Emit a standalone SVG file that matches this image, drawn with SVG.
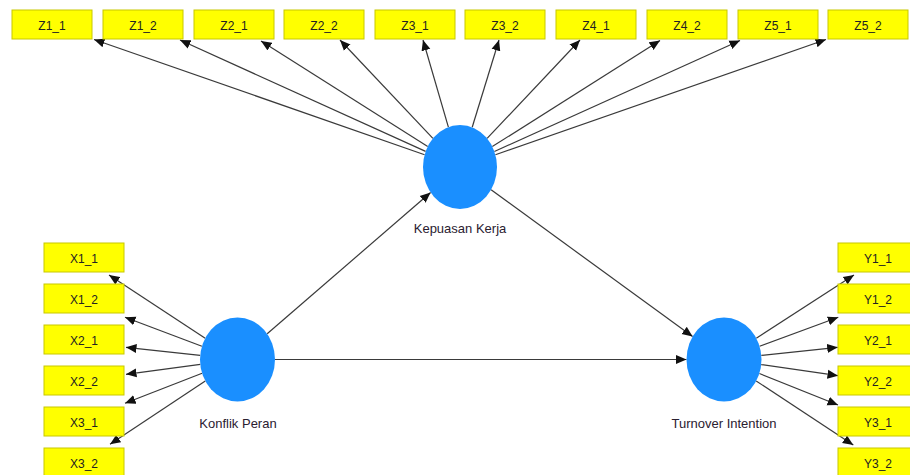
<svg xmlns="http://www.w3.org/2000/svg" width="910" height="475" viewBox="0 0 910 475">
<style>
.box{fill:#FFFF00;stroke:#C8C800;stroke-width:1}
.bt{font-family:"Liberation Sans",Arial,sans-serif;font-size:12px;fill:#222;text-anchor:middle}
.lv{fill:#1A8FFF}
.lt{font-family:"Liberation Sans",Arial,sans-serif;font-size:13px;fill:#2a2030;text-anchor:middle}
.c line{stroke:#3a3a3a;stroke-width:1.2;marker-end:url(#ah)}
</style>
<defs>
<marker id="ah" markerUnits="userSpaceOnUse" markerWidth="11" markerHeight="10" refX="10.5" refY="5" orient="auto">
<path d="M0,0.5 L10.5,5 L0,9.5 z" fill="#111"/>
</marker>
</defs>
<rect width="910" height="475" fill="#fff"/>
<g id="connectors" class="c">
<line x1="424.6" y1="154.7" x2="94" y2="39.5"/>
<line x1="425.6" y1="151.4" x2="180" y2="40"/>
<line x1="427.7" y1="146.5" x2="261" y2="41"/>
<line x1="432.9" y1="138.4" x2="340" y2="40"/>
<line x1="448.4" y1="127.1" x2="423" y2="40"/>
<line x1="472.2" y1="127.3" x2="499" y2="40"/>
<line x1="487.1" y1="138.4" x2="580" y2="40"/>
<line x1="492.3" y1="146.6" x2="660" y2="40.5"/>
<line x1="494.4" y1="151.5" x2="740" y2="40.5"/>
<line x1="495.4" y1="154.7" x2="826" y2="39.5"/>
<line x1="205.2" y1="338.2" x2="109" y2="275"/>
<line x1="201.9" y1="346.2" x2="125" y2="317.3"/>
<line x1="200.2" y1="355.4" x2="126" y2="347.3"/>
<line x1="200.3" y1="364.4" x2="126" y2="374.3"/>
<line x1="202.1" y1="373.3" x2="125" y2="403.3"/>
<line x1="205.3" y1="381" x2="110" y2="444.3"/>
<line x1="756.3" y1="338.2" x2="854" y2="275"/>
<line x1="759.6" y1="346.2" x2="838.3" y2="317.3"/>
<line x1="761.3" y1="355.4" x2="837.7" y2="347.3"/>
<line x1="761.2" y1="364.6" x2="838" y2="375.7"/>
<line x1="759.4" y1="373.5" x2="838" y2="405"/>
<line x1="756.2" y1="381" x2="853.3" y2="445"/>
<line x1="267.2" y1="333.8" x2="430.6" y2="192.5"/>
<line x1="275" y1="359.5" x2="686.5" y2="359.5"/>
<line x1="491.1" y1="189.7" x2="692.6" y2="336.6"/>
</g>
<g id="Z1_1"><rect class="box" x="12" y="10" width="80" height="29"/><text class="bt" x="52" y="29.5">Z1_1</text></g>
<g id="Z1_2"><rect class="box" x="103" y="10" width="80" height="29"/><text class="bt" x="143" y="29.5">Z1_2</text></g>
<g id="Z2_1"><rect class="box" x="194" y="10" width="80" height="29"/><text class="bt" x="234" y="29.5">Z2_1</text></g>
<g id="Z2_2"><rect class="box" x="284" y="10" width="80" height="29"/><text class="bt" x="324" y="29.5">Z2_2</text></g>
<g id="Z3_1"><rect class="box" x="375" y="10" width="80" height="29"/><text class="bt" x="415" y="29.5">Z3_1</text></g>
<g id="Z3_2"><rect class="box" x="465" y="10" width="80" height="29"/><text class="bt" x="505" y="29.5">Z3_2</text></g>
<g id="Z4_1"><rect class="box" x="556" y="10" width="80" height="29"/><text class="bt" x="596" y="29.5">Z4_1</text></g>
<g id="Z4_2"><rect class="box" x="647" y="10" width="80" height="29"/><text class="bt" x="687" y="29.5">Z4_2</text></g>
<g id="Z5_1"><rect class="box" x="738" y="10" width="80" height="29"/><text class="bt" x="778" y="29.5">Z5_1</text></g>
<g id="Z5_2"><rect class="box" x="828" y="10" width="80" height="29"/><text class="bt" x="868" y="29.5">Z5_2</text></g>
<g id="X1_1"><rect class="box" x="44" y="243" width="80" height="29"/><text class="bt" x="84" y="262.5">X1_1</text></g>
<g id="X1_2"><rect class="box" x="44" y="284" width="80" height="29"/><text class="bt" x="84" y="303.5">X1_2</text></g>
<g id="X2_1"><rect class="box" x="44" y="325" width="80" height="29"/><text class="bt" x="84" y="344.5">X2_1</text></g>
<g id="X2_2"><rect class="box" x="44" y="366" width="80" height="29"/><text class="bt" x="84" y="385.5">X2_2</text></g>
<g id="X3_1"><rect class="box" x="44" y="407" width="80" height="29"/><text class="bt" x="84" y="426.5">X3_1</text></g>
<g id="X3_2"><rect class="box" x="44" y="448" width="80" height="29"/><text class="bt" x="84" y="467.5">X3_2</text></g>
<g id="Y1_1"><rect class="box" x="838" y="243" width="80" height="29"/><text class="bt" x="878" y="262.5">Y1_1</text></g>
<g id="Y1_2"><rect class="box" x="838" y="284" width="80" height="29"/><text class="bt" x="878" y="303.5">Y1_2</text></g>
<g id="Y2_1"><rect class="box" x="838" y="325" width="80" height="29"/><text class="bt" x="878" y="344.5">Y2_1</text></g>
<g id="Y2_2"><rect class="box" x="838" y="366" width="80" height="29"/><text class="bt" x="878" y="385.5">Y2_2</text></g>
<g id="Y3_1"><rect class="box" x="838" y="407" width="80" height="29"/><text class="bt" x="878" y="426.5">Y3_1</text></g>
<g id="Y3_2"><rect class="box" x="838" y="448" width="80" height="29"/><text class="bt" x="878" y="467.5">Y3_2</text></g>
<g id="KepuasanKerja"><ellipse class="lv" cx="460" cy="167" rx="37" ry="42"/><text class="lt" x="460" y="233">Kepuasan Kerja</text></g>
<g id="KonflikPeran"><ellipse class="lv" cx="237.5" cy="359.5" rx="37.5" ry="42"/><text class="lt" x="238" y="428">Konflik Peran</text></g>
<g id="TurnoverIntention"><ellipse class="lv" cx="724" cy="359.5" rx="37.5" ry="42"/><text class="lt" x="724" y="428">Turnover Intention</text></g>
</svg>
